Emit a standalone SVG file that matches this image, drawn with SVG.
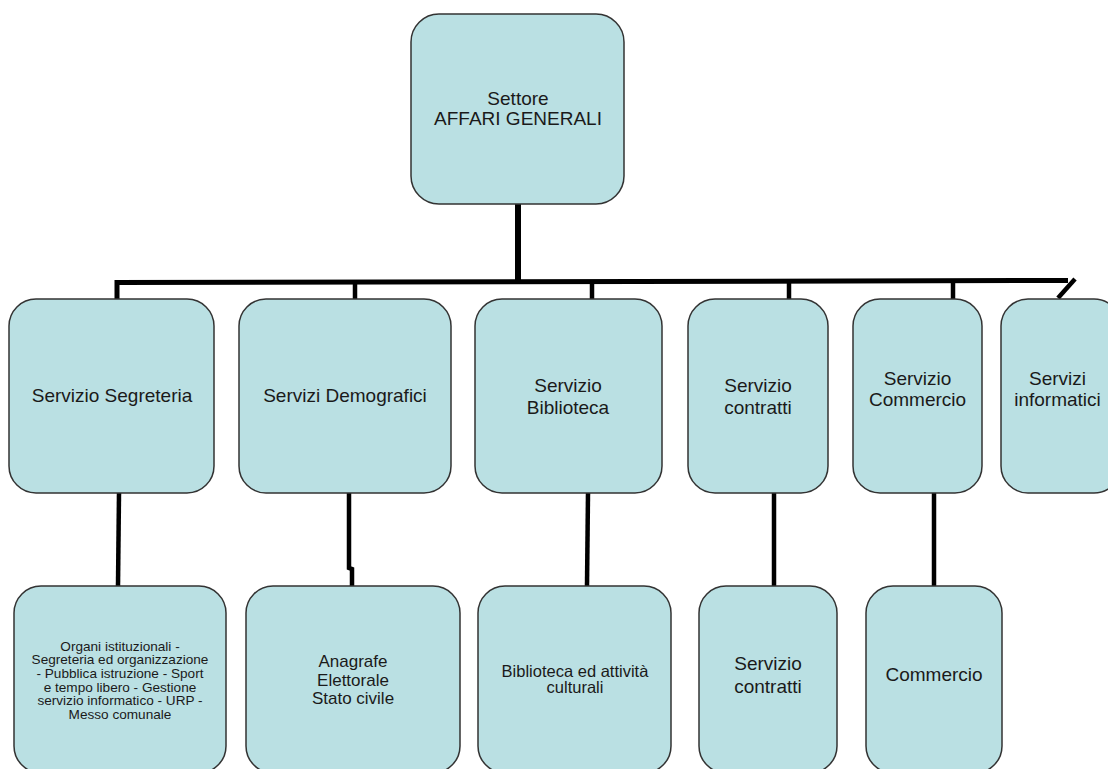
<svg xmlns="http://www.w3.org/2000/svg" width="1108" height="769" viewBox="0 0 1108 769">
<style>
.box{fill:#bae0e3;stroke:#333;stroke-width:1.5}
.t{font-family:"Liberation Sans",Arial,sans-serif;fill:#1a1a1a;text-anchor:middle}
.l{font-size:19px}
.s{font-size:13.6px}
.m{font-size:17px}
.b{font-size:16.5px}
.c{fill:none;stroke:#000;stroke-linejoin:miter}
</style>
<rect width="1108" height="769" fill="#fff"/>
<g id="connectors">
<line class="c" x1="518" y1="204" x2="518" y2="284" stroke-width="6"/>
<polyline class="c" points="117,299 117,282.5 1068,280.5" stroke-width="5"/>
<line class="c" x1="355" y1="282" x2="355" y2="299" stroke-width="4.5"/>
<line class="c" x1="592" y1="281" x2="592" y2="299" stroke-width="4.5"/>
<line class="c" x1="789" y1="281" x2="789" y2="299" stroke-width="4.5"/>
<line class="c" x1="953" y1="281" x2="953" y2="299" stroke-width="4.5"/>
<line class="c" x1="1075" y1="279" x2="1058" y2="298" stroke-width="4.5"/>
<line class="c" x1="119" y1="493" x2="118" y2="586" stroke-width="4.5"/>
<polyline class="c" points="349,493 349,568 352,569 352,586" stroke-width="4.5"/>
<line class="c" x1="588" y1="493" x2="587" y2="586" stroke-width="4.5"/>
<line class="c" x1="774" y1="493" x2="774" y2="586" stroke-width="4.5"/>
<line class="c" x1="934" y1="493" x2="934" y2="586" stroke-width="4.5"/>
</g>
<g id="n-top">
<rect class="box" x="411" y="14" width="213" height="190" rx="28"/>
<text class="t l" x="518" y="105" font-size="19.5">Settore</text>
<text class="t l" x="518" y="125" font-size="19.5">AFFARI GENERALI</text>
</g>
<g id="n-segreteria">
<rect class="box" x="9" y="299" width="205" height="194" rx="27"/>
<text class="t l" x="112" y="402">Servizio Segreteria</text>
</g>
<g id="n-demografici">
<rect class="box" x="239" y="299" width="212" height="194" rx="27"/>
<text class="t l" x="345" y="402">Servizi Demografici</text>
</g>
<g id="n-biblioteca">
<rect class="box" x="475" y="299" width="187" height="194" rx="27"/>
<text class="t l" x="568" y="392">Servizio</text>
<text class="t l" x="568" y="414">Biblioteca</text>
</g>
<g id="n-contratti">
<rect class="box" x="688" y="299" width="140" height="194" rx="27"/>
<text class="t l" x="758" y="392">Servizio</text>
<text class="t l" x="758" y="414">contratti</text>
</g>
<g id="n-commercio">
<rect class="box" x="853" y="299" width="129" height="194" rx="27"/>
<text class="t l" x="917.5" y="385">Servizio</text>
<text class="t l" x="917.5" y="406">Commercio</text>
</g>
<g id="n-informatici">
<rect class="box" x="1001" y="299" width="120" height="194" rx="27"/>
<text class="t l" x="1057.5" y="385">Servizi</text>
<text class="t l" x="1057.5" y="406">informatici</text>
</g>
<g id="n-organi">
<rect class="box" x="14" y="586" width="212" height="187" rx="27"/>
<text class="t s" x="120" y="650.5">Organi istituzionali -</text>
<text class="t s" x="120" y="664.2">Segreteria ed organizzazione</text>
<text class="t s" x="120" y="677.9">- Pubblica istruzione - Sport</text>
<text class="t s" x="120" y="691.6">e tempo libero - Gestione</text>
<text class="t s" x="120" y="705.3">servizio informatico - URP -</text>
<text class="t s" x="120" y="719">Messo comunale</text>
</g>
<g id="n-anagrafe">
<rect class="box" x="246" y="586" width="214" height="187" rx="27"/>
<text class="t m" x="353" y="667">Anagrafe</text>
<text class="t m" x="353" y="685.5">Elettorale</text>
<text class="t m" x="353" y="704">Stato civile</text>
</g>
<g id="n-biblio2">
<rect class="box" x="478" y="586" width="193" height="187" rx="27"/>
<text class="t b" x="575" y="677">Biblioteca ed attività</text>
<text class="t b" x="575" y="693">culturali</text>
</g>
<g id="n-contratti2">
<rect class="box" x="699" y="586" width="138" height="187" rx="27"/>
<text class="t l" x="768" y="670">Servizio</text>
<text class="t l" x="768" y="693">contratti</text>
</g>
<g id="n-commercio2">
<rect class="box" x="866" y="586" width="136" height="187" rx="27"/>
<text class="t l" x="934" y="681">Commercio</text>
</g>
</svg>
